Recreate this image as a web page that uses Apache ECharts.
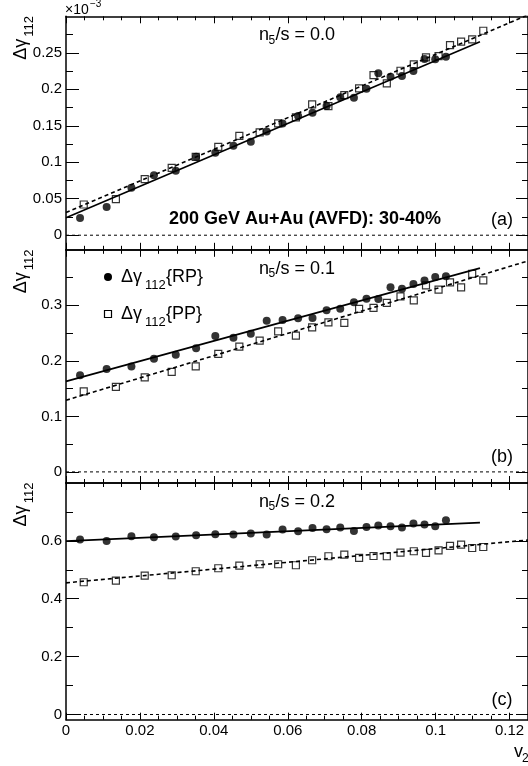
<!DOCTYPE html>
<html><head><meta charset="utf-8">
<script src="https://cdn.jsdelivr.net/npm/echarts@6/dist/echarts.min.js"></script>
<style>html,body{margin:0;padding:0;background:#fff}#c{width:528px;height:766px}</style>
</head><body><div id="c"></div>
<script>
// ---------- data ----------
const v2RP = [0.0038,0.0110,0.0177,0.0238,0.0297,0.0352,0.0404,0.0453,0.0500,0.0543,0.0586,0.0628,0.0667,0.0705,0.0742,0.0779,0.0813,0.0845,0.0878,0.0909,0.0940,0.0970,0.0999,0.1028];
const v2PP = [0.0048,0.0135,0.0213,0.0286,0.0351,0.0412,0.0469,0.0524,0.0574,0.0622,0.0666,0.0710,0.0753,0.0793,0.0832,0.0868,0.0905,0.0941,0.0974,0.1008,0.1039,0.1069,0.1099,0.1129];

// panel (a) n5/s = 0.0  (x 10^-3)
const rpA = [0.0237,0.0388,0.0649,0.0823,0.0882,0.1074,0.1129,0.1225,0.1280,0.1422,0.1532,0.1632,0.1678,0.1770,0.1889,0.1884,0.2007,0.2218,0.2172,0.2181,0.2250,0.2414,0.2410,0.2446];
const ppA = [0.0421,0.0494,0.0768,0.0923,0.1074,0.1211,0.1362,0.1409,0.1532,0.1614,0.1793,0.1770,0.1920,0.2012,0.2195,0.2080,0.2254,0.2341,0.2437,0.2455,0.2606,0.2652,0.2684,0.2802];
// panel (b) n5/s = 0.1
const rpB = [0.1739,0.1854,0.1900,0.2040,0.2110,0.2225,0.2448,0.2418,0.2490,0.2722,0.2737,0.2766,0.2773,0.2910,0.2940,0.3054,0.3120,0.3115,0.3325,0.3300,0.3385,0.3445,0.3510,0.3522];
const ppB = [0.1450,0.1530,0.1703,0.1800,0.1900,0.2124,0.2256,0.2364,0.2532,0.2454,0.2604,0.2694,0.2683,0.2935,0.2953,0.3043,0.3162,0.3090,0.3360,0.3283,0.3414,0.3324,0.3566,0.3450];
// panel (c) n5/s = 0.2
const rpC = [0.6045,0.5997,0.6159,0.6124,0.6149,0.6193,0.6228,0.6218,0.6252,0.6218,0.6390,0.6332,0.6446,0.6401,0.6459,0.6342,0.6480,0.6528,0.6504,0.6459,0.6598,0.6563,0.6504,0.6712];
const ppC = [0.4570,0.4629,0.4801,0.4812,0.4950,0.5054,0.5147,0.5192,0.5192,0.5157,0.5330,0.5468,0.5527,0.5410,0.5478,0.5468,0.5596,0.5641,0.5582,0.5675,0.5824,0.5872,0.5754,0.5789];

// linear fits (end points)
const fitRPa = [[0,0.024],[0.112,0.265]];
const fitPPa = [[0,0.031],[0.125,0.302]];
const fitRPb = [[0,0.163],[0.112,0.367]];
const fitPPb = [[0,0.129],[0.125,0.380]];
const fitRPc = [[0,0.599],[0.112,0.663]];
const fitPPc = [[0,0.455],[0.125,0.603]];
const zeroLine = [[0,0],[0.125,0]];

// ticks
const xMajor = [0,0.02,0.04,0.06,0.08,0.1,0.12];
const xMinor = [0.005,0.01,0.015,0.025,0.03,0.035,0.045,0.05,0.055,0.065,0.07,0.075,0.085,0.09,0.095,0.105,0.11,0.115];
const yMajorA = [0,0.05,0.1,0.15,0.2,0.25];
const yMinorA = [0.025,0.075,0.125,0.175,0.225,0.275];
const yMajorB = [0,0.1,0.2,0.3];
const yMinorB = [0.05,0.15,0.25,0.35];
const yMajorC = [0,0.2,0.4,0.6];
const yMinorC = [0.1,0.3,0.5,0.7];
const panelLabels = ['(a)','(b)','(c)'];
const etaLabels = ['0.0','0.1','0.2'];

// ---------- chart ----------
const FONT = '"Liberation Sans", Arial, Helvetica, sans-serif';
const BLACK = '#000';
const X0 = 66, W = 462.5;
const panels = [
  {top:16.3, height:233.5, min:-0.02, max:0.3, maj:yMajorA, mnr:yMinorA, rp:rpA, pp:ppA, frp:fitRPa, fpp:fitPPa},
  {top:249.8, height:233.2, min:-0.02, max:0.4, maj:yMajorB, mnr:yMinorB, rp:rpB, pp:ppB, frp:fitRPb, fpp:fitPPb},
  {top:483, height:236.7, min:-0.018, max:0.8, maj:yMajorC, mnr:yMinorC, rp:rpC, pp:ppC, frp:fitRPc, fpp:fitPPc}
];
const fmt = v => String(+(+v).toFixed(4));
const grids=[], xAxes=[], yAxes=[], series=[];
panels.forEach((p,gi)=>{
  grids.push({left:X0, top:p.top, width:W, height:p.height, containLabel:false});
  const xBase = {type:'value', gridIndex:gi, min:0, max:0.125, splitLine:{show:false}};
  const xi = xAxes.length;
  ['bottom','top'].forEach(pos=>{
    xAxes.push(Object.assign({}, xBase, {position:pos,
      axisLine:{show:true, onZero:false, lineStyle:{color:BLACK, width:1.5}},
      axisTick:{show:true, inside:true, length:7, customValues:xMajor, lineStyle:{color:BLACK, width:1}},
      axisLabel:{show:(gi===2 && pos==='bottom'), customValues:xMajor, formatter:fmt, fontSize:15, color:BLACK, fontFamily:FONT, margin:4}}));
    xAxes.push(Object.assign({}, xBase, {position:pos,
      axisLine:{show:false, onZero:false},
      axisTick:{show:true, inside:true, length:4, customValues:xMinor, lineStyle:{color:BLACK, width:1}},
      axisLabel:{show:false}}));
  });
  const yBase = {type:'value', gridIndex:gi, min:p.min, max:p.max, splitLine:{show:false}};
  const yi = yAxes.length;
  [['left',13,7],['right',12,6]].forEach(([pos,lM,lm])=>{
    yAxes.push(Object.assign({}, yBase, {position:pos,
      axisLine:{show:true, onZero:false, lineStyle:{color:BLACK, width:1.5}},
      axisTick:{show:true, inside:true, length:lM, customValues:p.maj, lineStyle:{color:BLACK, width:1}},
      axisLabel:{show:pos==='left', customValues:p.maj, formatter:fmt, fontSize:15, color:BLACK, fontFamily:FONT, margin:4}}));
    yAxes.push(Object.assign({}, yBase, {position:pos,
      axisLine:{show:false, onZero:false},
      axisTick:{show:true, inside:true, length:lm, customValues:p.mnr, lineStyle:{color:BLACK, width:1}},
      axisLabel:{show:false}}));
  });
  const ax = {xAxisIndex:xi, yAxisIndex:yi};
  series.push(Object.assign({type:'line', data:zeroLine, showSymbol:false, silent:true,
    lineStyle:{color:BLACK, width:1, type:[3,3]}, z:1}, ax));
  series.push(Object.assign({type:'line', data:p.frp, showSymbol:false, silent:true,
    lineStyle:{color:BLACK, width:1.6}, z:2}, ax));
  series.push(Object.assign({type:'line', data:p.fpp, showSymbol:false, silent:true,
    lineStyle:{color:BLACK, width:1.6, type:[4,3]}, z:2}, ax));
  series.push(Object.assign({type:'scatter', name:'RP', data:v2RP.map((x,i)=>[x,p.rp[i]]),
    symbol:'circle', symbolSize:8, itemStyle:{color:BLACK}, z:4}, ax));
  series.push(Object.assign({type:'scatter', name:'PP', data:v2PP.map((x,i)=>[x,p.pp[i]]),
    symbol:'rect', symbolSize:7, itemStyle:{color:'rgba(255,255,255,0)', borderColor:BLACK, borderWidth:1.2}, z:3}, ax));
});

// text helpers
function T(text, x, y, size, opt){
  opt = opt||{};
  return {type:'text', x:x, y:y, rotation:opt.rot||0, silent:true, z:100,
    style:{text:text, font:(opt.bold?'bold ':'')+size+'px '+FONT, fill:BLACK,
      align:opt.align||'left', verticalAlign:'middle', textAlign:opt.align||'left', textVerticalAlign:'middle'}};
}
const g = [];
// y-axis titles
panels.forEach(p=>{
  g.push(T('\u0394\u03b3', 21, p.top+33, 18, {rot:Math.PI/2, align:'center'}));
  g.push(T('112', 29, p.top+10, 13, {rot:Math.PI/2, align:'center'}));
});
// x10^-3
g.push(T('\u00d710', 65, 10, 14));
g.push(T('\u22123', 90, 4, 10));
// n5/s labels
panels.forEach((p,i)=>{
  const yc = p.top + 19;
  g.push(T('n', 259, yc, 18));
  g.push(T('5', 268.5, yc+5, 12));
  g.push(T('/s = '+etaLabels[i], 275.5, yc, 18));
});
// panel letters
g.push(T(panelLabels[0], 502, 220, 18, {align:'center'}));
g.push(T(panelLabels[1], 502, 457, 18, {align:'center'}));
g.push(T(panelLabels[2], 502, 700, 18, {align:'center'}));
// energy / system label
g.push(T('200 GeV Au+Au (AVFD): 30-40%', 305, 219, 18, {bold:true, align:'center'}));
// legend
g.push({type:'circle', shape:{cx:108, cy:277, r:4}, style:{fill:BLACK}, silent:true});
g.push({type:'rect', shape:{x:104.5, y:310.5, width:7, height:7}, style:{fill:'none', stroke:BLACK, lineWidth:1.2}, silent:true});
[['{RP}',277],['{PP}',314]].forEach(([t,yc])=>{
  g.push(T('\u0394\u03b3', 121, yc, 18));
  g.push(T('112', 145, yc+8, 13));
  g.push(T(t, 166, yc, 18));
});
// x-axis title
g.push(T('v', 514, 752, 18));
g.push(T('2', 522, 759, 12));

const chart = echarts.init(document.getElementById('c'), null, {renderer:'canvas'});
chart.setOption({animation:false, backgroundColor:'#fff', grid:grids, xAxis:xAxes, yAxis:yAxes, series:series, graphic:g});
</script></body></html>
